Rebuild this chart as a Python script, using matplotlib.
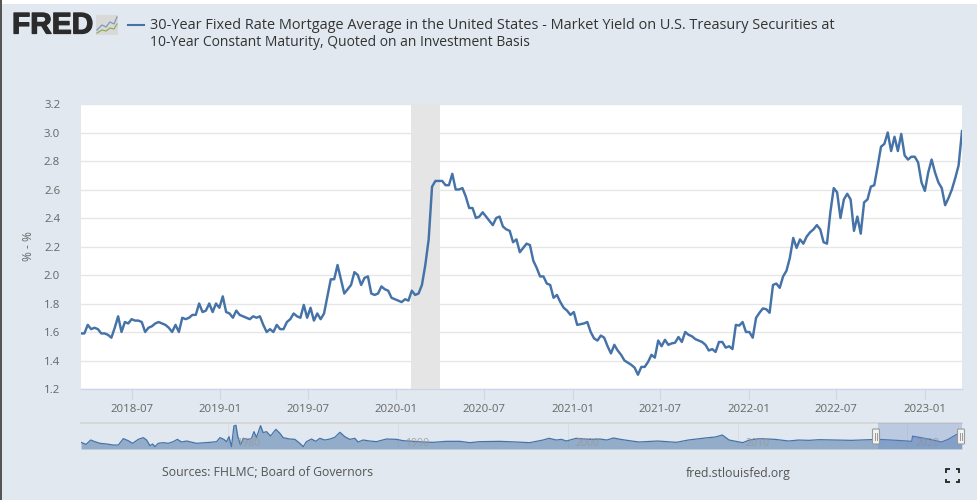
import matplotlib
matplotlib.use("Agg")
import matplotlib.pyplot as plt
import matplotlib.dates as mdates
import matplotlib.patheffects as pe
import pandas as pd
from matplotlib.patches import Rectangle, FancyBboxPatch

spread = [1.59,1.59,1.65,1.62,1.63,1.62,1.59,1.59,1.58,1.56,
1.63,1.71,1.60,1.67,1.66,1.69,1.68,1.68,1.67,1.60,
1.63,1.64,1.66,1.67,1.66,1.65,1.63,1.60,1.65,1.60,
1.70,1.69,1.70,1.72,1.72,1.80,1.74,1.75,1.80,1.74,
1.80,1.77,1.85,1.74,1.73,1.70,1.75,1.72,1.71,1.70,
1.69,1.71,1.70,1.71,1.65,1.60,1.62,1.60,1.65,1.62,
1.62,1.67,1.69,1.73,1.71,1.70,1.79,1.70,1.77,1.68,
1.73,1.69,1.73,1.85,1.97,1.97,2.07,1.97,1.87,1.90,
1.93,2.02,2.00,1.93,1.98,1.99,1.87,1.86,1.87,1.92,
1.90,1.89,1.84,1.83,1.82,1.81,1.83,1.82,1.89,1.86,
1.87,1.93,2.07,2.25,2.62,2.66,2.66,2.66,2.63,2.63,
2.71,2.60,2.60,2.61,2.55,2.47,2.47,2.40,2.41,2.44,
2.41,2.38,2.35,2.40,2.41,2.34,2.32,2.31,2.23,2.25,
2.16,2.19,2.22,2.21,2.10,2.05,1.99,1.99,1.94,1.93,
1.84,1.86,1.81,1.77,1.75,1.72,1.74,1.65,1.655,1.66,
1.67,1.60,1.555,1.54,1.575,1.56,1.50,1.45,1.51,1.47,
1.44,1.40,1.385,1.37,1.35,1.30,1.355,1.355,1.39,1.44,
1.42,1.54,1.50,1.545,1.51,1.52,1.525,1.565,1.53,1.60,
1.58,1.57,1.55,1.54,1.53,1.51,1.47,1.48,1.46,1.53,
1.53,1.49,1.50,1.48,1.65,1.645,1.67,1.60,1.60,1.56,
1.70,1.735,1.765,1.76,1.735,1.93,1.94,1.91,1.99,2.03,
2.12,2.26,2.19,2.25,2.22,2.27,2.30,2.32,2.35,2.32,
2.23,2.22,2.44,2.61,2.58,2.40,2.53,2.57,2.53,2.31,
2.41,2.29,2.51,2.53,2.62,2.63,2.76,2.90,2.92,3.00,
2.87,2.97,2.87,2.99,2.84,2.81,2.83,2.83,2.79,2.65,
2.59,2.72,2.81,2.72,2.65,2.61,2.49,2.54,2.60,2.68,
2.77,3.01]
start_date = "2018-03-18"
end_date = "2023-03-19"
tick_dates = ["2018-07-01","2019-01-01","2019-07-01","2020-01-01","2020-07-01",
              "2021-01-01","2021-07-01","2022-01-01","2022-07-01","2023-01-01"]
y_ticks = [1.2,1.4,1.6,1.8,2.0,2.2,2.4,2.6,2.8,3.0,3.2]
recession = ["2020-02-01","2020-04-01"]
title_line1 = "30-Year Fixed Rate Mortgage Average in the United States - Market Yield on U.S. Treasury Securities at"
title_line2 = "10-Year Constant Maturity, Quoted on an Investment Basis"
nav_years = [1971.35,1971.65,1971.92,1972.17,1972.47,1972.86,1973.25,1973.55,1973.84,1974.13,
1974.39,1974.72,1975.02,1975.21,1975.41,1975.57,1975.70,1975.90,1976.19,1976.49,
1976.78,1977.02,1977.27,1977.57,1978.15,1978.94,1979.33,1979.53,1979.76,1979.92,
1980.06,1980.21,1980.35,1980.47,1980.58,1980.74,1980.90,1981.19,1981.39,1981.53,
1981.68,1981.92,1982.07,1982.27,1982.51,1982.82,1983.06,1983.25,1983.64,1983.94,
1984.23,1984.43,1984.62,1984.92,1985.17,1985.41,1985.70,1986.0,1986.29,1986.59,
1986.88,1987.17,1987.47,1987.66,1987.96,1988.35,1988.74,1989.33,1989.92,1990.31,
1990.9,1991.49,1992.08,1992.86,1993.65,1994.23,1994.82,1996.0,
1997.0,1997.76,1998.55,1998.9,1999.33,1999.63,1999.92,2000.5,2001.3,2001.9,2002.3,2002.7,
2003.1,2003.9,2004.2,2005.3,2006.4,2007.1,2008.1,2008.7,2009.1,2009.5,2009.9,2010.3,2010.7,
2011.3,2012.2,2013.0,2013.6,2014.2,2014.8,2016.7,2018.3,2019.7,2020.25,2020.3,2020.8,2021.4,2022.0,2022.4,2022.9,2023.2]
nav_values = [1.85,1.48,2.27,1.97,1.67,1.55,1.36,1.36,2.52,2.15,
1.67,2.39,2.70,2.27,1.24,1.55,1.06,1.67,1.79,1.67,
1.97,2.39,1.91,2.09,1.67,1.85,1.97,2.70,2.39,1.97,
2.88,1.06,4.82,4.94,2.88,1.36,2.58,2.39,2.58,3.79,
2.76,4.88,3.61,3.79,3.0,4.21,3.48,2.70,2.45,2.39,
1.67,1.06,1.97,2.45,2.03,2.58,2.27,2.45,2.76,3.67,
2.88,2.39,2.58,1.91,2.27,2.09,1.97,2.45,2.39,2.15,
2.03,1.91,1.85,2.03,2.03,1.79,1.97,2.03,
1.91,1.79,2.27,2.58,2.27,2.39,2.09,2.58,2.39,2.45,2.27,2.64,
2.39,2.03,1.91,2.09,1.85,2.27,2.64,2.82,3.18,2.27,2.03,1.79,2.27,
2.52,2.39,2.09,2.27,2.21,2.33,2.21,2.39,2.15,2.03,2.97,2.70,2.33,1.91,2.39,3.30,3.48]
nav_marks = [1980,1990,2000,2010,2020]
sel_start = 2018.21
sel_end = 2023.21
sources = "Sources: FHLMC; Board of Governors"
site = "fred.stlouisfed.org"

BG = "#E1E8EF"
W, H = 978, 500
fig = plt.figure(figsize=(W/100, H/100), dpi=100, facecolor=BG)
plt.rcParams["font.family"] = ["Open Sans", "DejaVu Sans"]

def rect(x0, y0, x1, y1):
    return [x0/W, 1-y1/H, (x1-x0)/W, (y1-y0)/H]

bg = fig.add_axes([0,0,1,1], zorder=0); bg.set_xlim(0,W); bg.set_ylim(H,0); bg.axis("off")
bg.add_patch(Rectangle((0,0),W,4,fc="white",ec="none"))
bg.add_patch(Rectangle((0,0),1.6,H,fc="#555555",ec="none"))

dates = pd.date_range(start_date, periods=len(spread), freq="7D")
ax = fig.add_axes(rect(81,104,962,389), zorder=2, facecolor="white")
ax.axvspan(pd.Timestamp(recession[0]), pd.Timestamp(recession[1]), color="#E5E5E5", lw=0, zorder=1)
ax.set_yticks(y_ticks)
ax.grid(axis="y", color="#E6E6E6", lw=1.0, zorder=2)
ax.set_axisbelow(True)
ax.plot(dates, spread, color="#4572A7", lw=1.75, zorder=3, solid_joinstyle="round")
ax.set_xlim(pd.Timestamp(start_date), pd.Timestamp(end_date))
ax.set_ylim(1.2, 3.2)
ax.set_xticks([pd.Timestamp(d) for d in tick_dates])
ax.xaxis.set_major_formatter(mdates.DateFormatter("%Y-%m"))
for s in ["top","right","left"]:
    ax.spines[s].set_visible(False)
ax.spines["bottom"].set_color("#CCD6EB"); ax.spines["bottom"].set_linewidth(1.0)
ax.tick_params(axis="x", length=7.2, width=0.8, color="#CCD6EB", labelcolor="#666666", labelsize=8.2, pad=3.5)
ax.tick_params(axis="y", length=0, labelcolor="#666666", labelsize=8.2, pad=15)
ax.set_yticklabels([f"{v:.1f}" for v in y_ticks])
ax.set_ylabel("% - %", color="#666666", fontsize=8.6, labelpad=6)

nav = fig.add_axes(rect(81,423,962,449), zorder=2)
nav.patch.set_alpha(0)
nav.fill_between(nav_years, 0.64, nav_values, color="#4572A7", alpha=0.5, lw=0, zorder=2)
nav.plot(nav_years, nav_values, color="#4572A7", lw=0.9, zorder=3)
nav.set_xlim(1971.35, 2023.21)
nav.set_ylim(0.64, 5.36)
nav.set_xticks([]); nav.set_yticks([])
for s in ["left","right","bottom"]:
    nav.spines[s].set_visible(False)
nav.spines["top"].set_color("#D4D4D4"); nav.spines["top"].set_linewidth(1.2)
for yr in nav_marks:
    nav.axvline(yr, color="#D8DDE3", lw=0.7, zorder=1)
    nav.text(yr+0.45, 1.55, str(yr), color="#999999", fontsize=7.6, ha="left", va="center", zorder=4, alpha=0.85)
nav.axvspan(sel_start+0.05, sel_end, color="#6685C2", alpha=0.3, lw=0, zorder=5)

fg = fig.add_axes([0,0,1,1], zorder=5); fg.set_xlim(0,W); fg.set_ylim(H,0); fg.axis("off"); fg.patch.set_alpha(0)
for x in (876, 961):
    fg.add_patch(FancyBboxPatch((x-3.5,429),7,15,boxstyle="round,pad=0,rounding_size=1",fc="#F2F2F2",ec="#999999",lw=0.8))
    fg.plot([x-1.2,x-1.2],[433,440],color="#999999",lw=0.7)
    fg.plot([x+1.2,x+1.2],[433,440],color="#999999",lw=0.7)

logo = fg.text(12,25.5,"FRED",family="Liberation Sans",weight="bold",fontsize=21.5,color="#2B2B2B",ha="left",va="center")
logo.set_path_effects([pe.withStroke(linewidth=0.9, foreground="#2B2B2B")])
fg.add_patch(Rectangle((96,15),22,20,fc="#D9D9D9",ec="none"))
fg.plot([97,102,106,110,114,117],[30,25,27,22,24,17],color="#7F99B8",lw=0.9)
fg.plot([97,102,106,110,114,117],[33,30,31,28,29,24],color="#8FAE5D",lw=0.9)

fg.plot([128,144],[24.5,24.5],color="#4572A7",lw=1.5)
fg.text(149.5,25.5,title_line1,color="#333333",fontsize=10.45,ha="left",va="center")
fg.text(149.5,43,title_line2,color="#333333",fontsize=10.0,ha="left",va="center")

fg.text(162,473,sources,color="#555555",fontsize=8.85,ha="left",va="center")
fg.text(686,473,site,color="#555555",fontsize=8.85,ha="left",va="center")

for cx,cy,dx,dy in [(946,469,1,1),(959,469,-1,1),(946,482,1,-1),(959,482,-1,-1)]:
    fg.plot([cx+3.5*dx,cx,cx],[cy,cy,cy+3.5*dy],color="#222222",lw=1.3,solid_capstyle="butt",solid_joinstyle="miter")

fig.savefig("out.png", dpi=100, facecolor=BG)
